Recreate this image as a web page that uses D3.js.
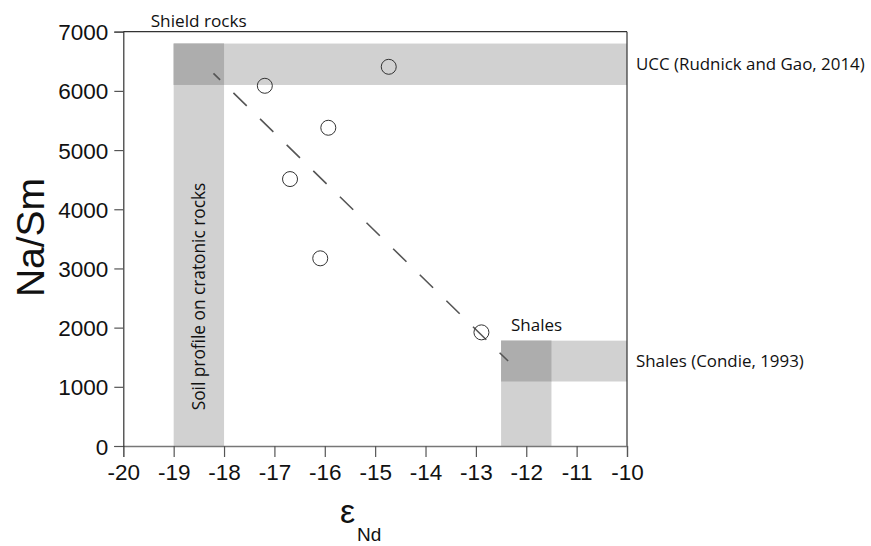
<!DOCTYPE html>
<html><head><meta charset="utf-8">
<script src="https://cdn.jsdelivr.net/npm/d3@7"></script>
<style>body{margin:0;background:#fff;} svg{display:block;}</style>
</head><body>
<svg id="c" width="871" height="546"></svg>
<script>
// ---- data ----
const xTicks = [-20,-19,-18,-17,-16,-15,-14,-13,-12,-11,-10];
const yTicks = [0,1000,2000,3000,4000,5000,6000,7000];
const sampleEpsNd = [-17.19,-14.73,-15.93,-16.69,-16.09,-12.89];
const sampleNaSm  = [6086, 6407, 5377, 4510, 3171, 1920];
const trendEpsNd = [-18.21, -12.36];
const trendNaSm  = [6296, 1436];
// reference fields: [x0, x1, y0, y1]
const shieldBand = [-19, -18, 0, 6800];
const uccBand    = [-19, -10, 6100, 6800];
const shaleVBand = [-12.5, -11.5, 0, 1780];
const shaleHBand = [-12.5, -10, 1090, 1780];
const labels = {
  shield: "Shield rocks",
  ucc: "UCC (Rudnick and Gao, 2014)",
  shales: "Shales",
  shalesRef: "Shales (Condie, 1993)",
  soil: "Soil profile on cratonic rocks",
  yTitle: "Na/Sm"
};

// ---- chart ----
const svg = d3.select("#c");
const L = 123.3, R = 627, T = 31.7, B = 446;
const x = d3.scaleLinear().domain([-20,-10]).range([L,R]);
const y = d3.scaleLinear().domain([0,7000]).range([B,T]);
const band = "#d1d1d1", overlap = "#adadad";
const lab = "'Open Sans', 'Noto Sans', sans-serif";
const num = "'Liberation Sans', Arial, sans-serif";

function rect(b, fill){
  svg.append("rect").attr("x", x(b[0])).attr("y", y(b[3]))
    .attr("width", x(b[1]) - x(b[0])).attr("height", y(b[2]) - y(b[3]))
    .attr("fill", fill);
}
function inter(a,b){ return [Math.max(a[0],b[0]),Math.min(a[1],b[1]),Math.max(a[2],b[2]),Math.min(a[3],b[3])]; }
rect(shieldBand, band); rect(uccBand, band); rect(inter(shieldBand,uccBand), overlap);
rect(shaleVBand, band); rect(shaleHBand, band); rect(inter(shaleVBand,shaleHBand), overlap);

// frame top & right
svg.append("line").attr("x1",L).attr("x2",R).attr("y1",T).attr("y2",T).attr("stroke","#333").attr("stroke-width",1.2);
svg.append("line").attr("x1",R).attr("x2",R).attr("y1",T).attr("y2",B).attr("stroke","#333").attr("stroke-width",1.2);

// axes
const xa = svg.append("g").attr("transform",`translate(0,${B})`)
  .call(d3.axisBottom(x).tickValues(xTicks).tickFormat(d3.format("d")).tickSize(11).tickPadding(6));
const ya = svg.append("g").attr("transform",`translate(${L},0)`)
  .call(d3.axisLeft(y).tickValues(yTicks).tickFormat(d=>d).tickSize(9).tickPadding(6));
[xa,ya].forEach(g=>{
  g.selectAll("text").attr("font-family",num).attr("font-size",22.5).attr("fill","#111");
  g.selectAll(".tick line").attr("stroke","#555").attr("stroke-width",1.2);
});
xa.select(".domain").attr("stroke","#777").attr("stroke-width",1.3);
ya.select(".domain").attr("stroke","#333").attr("stroke-width",1.2);
xa.selectAll("text").attr("dy","0.76em").text(d=>String(d).replace("\u2212","-"));
ya.selectAll("text").attr("dy","0.36em");

// trend line
svg.append("line")
  .attr("x1",x(trendEpsNd[0])).attr("y1",y(trendNaSm[0]))
  .attr("x2",x(trendEpsNd[1])).attr("y2",y(trendNaSm[1]))
  .attr("stroke","#555").attr("stroke-width",1.6)
  .attr("stroke-dasharray","18.6,18.6").attr("stroke-dashoffset",9.3);

// samples
svg.selectAll("circle.s").data(sampleEpsNd.map((e,i)=>[e,sampleNaSm[i]])).enter()
  .append("circle").attr("class","s")
  .attr("cx",d=>x(d[0])).attr("cy",d=>y(d[1])).attr("r",7.5)
  .attr("fill","none").attr("stroke","#333").attr("stroke-width",1);

// labels
function txt(s, px, py, size, fam){
  return svg.append("text").attr("x",px).attr("y",py).attr("font-family",fam||lab)
    .attr("font-size",size).attr("fill","#111").text(s);
}
txt(labels.shield, 150.7, 26.7, 17.2);
txt(labels.ucc, 636, y((uccBand[2]+uccBand[3])/2)+6, 16.9);
txt(labels.shales, 511, 330.7, 17);
txt(labels.shalesRef, 636, y((shaleHBand[2]+shaleHBand[3])/2)+6, 16.9);
svg.append("text").attr("transform",`translate(${x((shieldBand[0]+shieldBand[1])/2)},296.5) rotate(-90)`)
  .attr("text-anchor","middle").attr("dy","0.35em").attr("font-family",lab).attr("font-size",17.3)
  .attr("fill","#111").text(labels.soil);
svg.append("text").attr("transform","translate(44,237.5) rotate(-90)")
  .attr("text-anchor","middle").attr("font-family",num).attr("font-size",39).attr("fill","#111").text(labels.yTitle);
const xt = svg.append("text").attr("x",340).attr("y",523).attr("font-family",num).attr("fill","#111");
xt.append("tspan").attr("font-size",34).text("ε");
xt.append("tspan").attr("x",357).attr("y",541).attr("font-size",19).text("Nd");
</script>
</body></html>
